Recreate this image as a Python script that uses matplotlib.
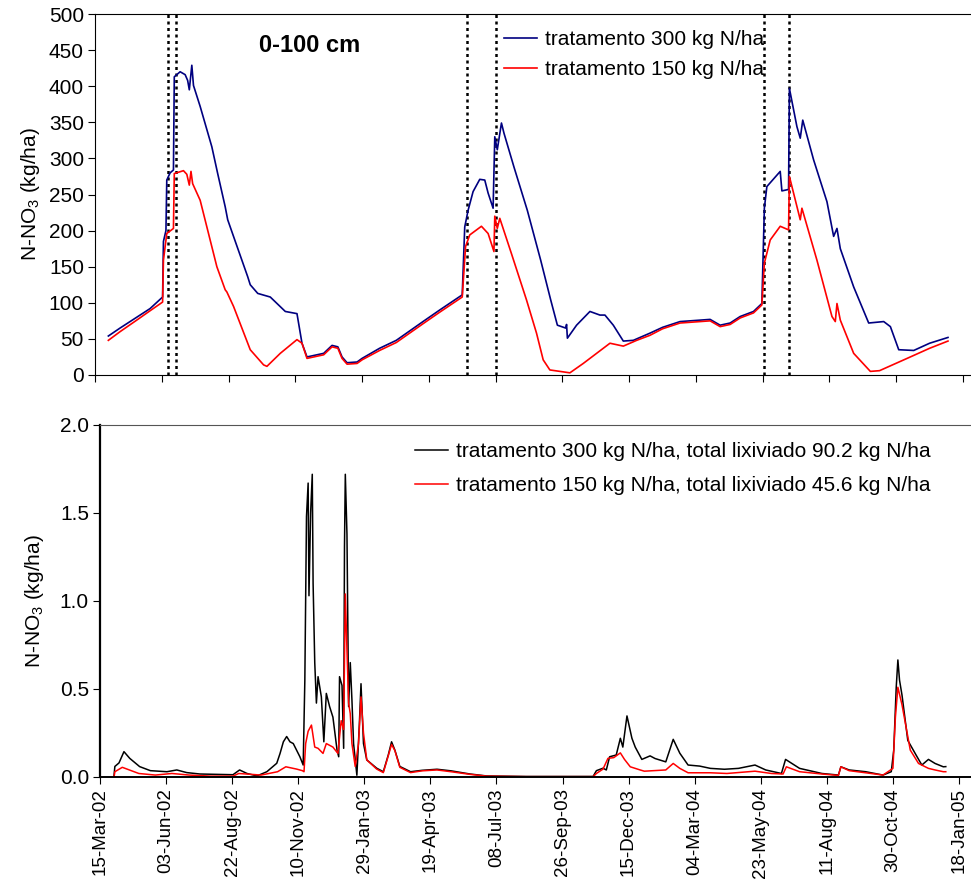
import numpy as np
import pandas as pd
import matplotlib
matplotlib.use("Agg")
import matplotlib.pyplot as plt
import matplotlib.dates as mdates

# =============================
# DATA (days since 15-Mar-2002)
# =============================
START = pd.Timestamp("2002-03-15")

# top panel: N-NO3 stock 0-100 cm (kg/ha)
days_stock_300 = [16, 30, 50, 66, 81, 82, 85, 86, 90, 94, 95, 102, 108, 111, 113, 116, 118, 126,
                  140, 147, 156, 159, 169, 183, 186, 195, 210, 228, 242, 248, 254, 262, 274, 284,
                  291, 296, 302, 314, 320, 341, 361, 393, 413, 440, 443, 447, 453, 461, 467, 471,
                  477, 479, 482, 487, 490, 502, 518, 534, 546, 554, 564, 565, 566, 577, 593, 605,
                  611, 621, 633, 645, 665, 680, 701, 737, 749, 761, 773, 789, 799, 802, 805, 821,
                  823, 831, 832, 841, 845, 848, 861, 877, 885, 889, 893, 909, 927, 945, 953, 963,
                  981, 1000, 1022]
stock_300 = [54, 65, 80, 92, 108, 185, 200, 270, 280, 284, 413, 420, 416, 408, 395, 429, 401, 372,
             316, 279, 233, 215, 182, 136, 125, 113, 108, 88, 85, 44, 25, 27, 30, 41,
             39, 25, 17, 18, 23, 37, 48, 74, 90, 111, 205, 228, 254, 271, 270, 252,
             231, 330, 312, 349, 335, 288, 228, 159, 104, 69, 65, 70, 51, 69, 88, 83,
             83, 69, 47, 48, 58, 66, 74, 77, 69, 72, 81, 88, 99, 231, 261, 282,
             255, 257, 397, 344, 328, 353, 298, 240, 192, 203, 175, 122, 72, 74, 67, 35,
             34, 44, 52]

days_stock_150 = [16, 30, 50, 66, 81, 82, 86, 94, 95, 106, 110, 113, 115, 117, 126, 146, 156, 158,
                  166, 186, 202, 206, 222, 242, 248, 254, 262, 274, 284, 291, 296, 302, 314, 320,
                  341, 361, 393, 413, 440, 444, 449, 463, 471, 478, 479, 482, 485, 491, 499, 517,
                  529, 537, 545, 569, 585, 601, 617, 633, 649, 665, 680, 701, 737, 749, 761, 773,
                  789, 799, 802, 809, 821, 831, 832, 845, 847, 865, 883, 887, 889, 893, 909, 929,
                  940, 973, 1000, 1022]
stock_150 = [48, 60, 76, 89, 101, 159, 196, 203, 279, 283, 278, 263, 282, 265, 242, 150, 118, 115,
             95, 35, 14, 12, 30, 49, 44, 23, 25, 28, 39, 37, 23, 15, 16, 21,
             34, 45, 71, 87, 108, 178, 194, 206, 196, 171, 220, 203, 217, 196, 168, 104,
             58, 21, 7, 3, 16, 30, 44, 40, 48, 55, 64, 72, 75, 67, 70, 79,
             86, 97, 155, 187, 206, 201, 275, 215, 231, 159, 81, 74, 99, 76, 30, 5,
             6, 23, 37, 47]

# fertilization dates (dotted lines)
days_events = [87, 97, 446, 480, 802, 832]

# bottom panel: leached N-NO3 (kg/ha)
days_leach_300 = [17, 18, 23, 29, 36, 48, 61, 81, 93, 105, 121, 161, 169, 178, 190, 202, 214, 218,
                  222, 226, 230, 234, 242, 246, 248, 250, 252, 253, 255, 257, 258, 260, 262, 264,
                  268, 271, 274, 278, 282, 287, 289, 290, 293, 295, 296, 297, 299, 301, 303, 305,
                  307, 311, 314, 316, 319, 323, 335, 343, 349, 353, 357, 363, 376, 390, 408, 425,
                  448, 468, 516, 597, 601, 609, 613, 617, 625, 630, 633, 638, 644, 648, 656, 666,
                  672, 685, 694, 702, 712, 726, 739, 756, 773, 793, 806, 825, 830, 847, 874, 894,
                  897, 907, 927, 948, 958, 961, 964, 966, 968, 971, 978, 988, 995, 1003, 1011,
                  1021, 1024]
leach_300 = [0.01, 0.06, 0.08, 0.144, 0.106, 0.059, 0.036, 0.03, 0.04, 0.025, 0.017, 0.013, 0.04,
             0.02, 0.006, 0.03, 0.078, 0.134, 0.2, 0.23, 0.2, 0.19, 0.115, 0.068, 0.55, 1.48, 1.67,
             1.03, 1.50, 1.72, 1.10, 0.65, 0.42, 0.57, 0.455, 0.2, 0.475, 0.40, 0.34, 0.153, 0.115,
             0.57, 0.52, 0.163, 1.31, 1.72, 1.38, 0.40, 0.65, 0.44, 0.19, 0.01, 0.30, 0.53, 0.19,
             0.097, 0.05, 0.03, 0.125, 0.2, 0.153, 0.06, 0.03, 0.038, 0.044, 0.035, 0.017, 0.006,
             0.003, 0.003, 0.036, 0.05, 0.04, 0.115, 0.125, 0.22, 0.17, 0.347, 0.22, 0.17, 0.1,
             0.12, 0.105, 0.086, 0.214, 0.135, 0.068, 0.062, 0.049, 0.044, 0.049, 0.068, 0.04,
             0.02, 0.1, 0.049, 0.02, 0.011, 0.058, 0.04, 0.03, 0.011, 0.03, 0.153, 0.51, 0.665,
             0.55, 0.465, 0.208, 0.125, 0.068, 0.1, 0.077, 0.058, 0.059]

days_leach_150 = [17, 18, 27, 47, 67, 87, 108, 134, 161, 168, 195, 215, 225, 238, 245, 247, 249,
                  252, 256, 260, 264, 270, 274, 282, 288, 292, 295, 297, 299, 301, 303, 305, 309,
                  313, 316, 319, 323, 335, 343, 349, 353, 357, 363, 376, 390, 408, 425, 448, 468,
                  516, 597, 601, 609, 615, 622, 630, 635, 642, 654, 659, 685, 694, 702, 712, 739,
                  759, 793, 813, 827, 831, 847, 874, 894, 897, 907, 927, 948, 960, 963, 966, 971,
                  981, 991, 1003, 1011, 1021, 1024]
leach_150 = [0.0, 0.03, 0.055, 0.02, 0.011, 0.02, 0.011, 0.005, 0.005, 0.02, 0.011, 0.03, 0.058,
             0.045, 0.036, 0.03, 0.19, 0.26, 0.295, 0.17, 0.163, 0.134, 0.19, 0.17, 0.134, 0.32,
             0.27, 1.04, 0.72, 0.42, 0.36, 0.19, 0.06, 0.19, 0.455, 0.25, 0.097, 0.045, 0.025,
             0.12, 0.185, 0.15, 0.055, 0.025, 0.035, 0.04, 0.03, 0.015, 0.005, 0.002, 0.002, 0.02,
             0.045, 0.106, 0.11, 0.137, 0.1, 0.058, 0.04, 0.033, 0.04, 0.077, 0.049, 0.024, 0.024,
             0.02, 0.033, 0.02, 0.017, 0.058, 0.03, 0.017, 0.009, 0.058, 0.036, 0.024, 0.011,
             0.049, 0.34, 0.51, 0.41, 0.153, 0.077, 0.049, 0.04, 0.03, 0.03]

label_stock_300 = "tratamento 300 kg N/ha"
label_stock_150 = "tratamento 150 kg N/ha"
label_leach_300 = "tratamento 300 kg N/ha, total lixiviado 90.2 kg N/ha"
label_leach_150 = "tratamento 150 kg N/ha, total lixiviado 45.6 kg N/ha"


def to_dates(days):
    return START + pd.to_timedelta(np.asarray(days), unit="D")


# =============================
# STYLE
# =============================
plt.rcParams["font.family"] = ["Liberation Sans", "DejaVu Sans"]
plt.rcParams["mathtext.fontset"] = "custom"
plt.rcParams["mathtext.rm"] = "Liberation Sans"
plt.rcParams["mathtext.default"] = "regular"

FS = 15
NAVY = "#000080"
RED = "#ff0000"

W, H = 971, 882
fig = plt.figure(figsize=(W / 100, H / 100), dpi=100)

# axes boxes in pixels (left, top, bottom), right edge runs to the figure edge
ax1 = fig.add_axes([95 / W, (H - 375) / H, (W - 95) / W, (375 - 14) / H])
ax2 = fig.add_axes([100 / W, (H - 777) / H, (W - 100) / W, (777 - 425) / H])

tick_dates = START + pd.to_timedelta(np.arange(0, 1041, 80), unit="D")

# =============================
# TOP PANEL
# =============================
ax1.plot(to_dates(days_stock_300), stock_300, color=NAVY, lw=1.2, label=label_stock_300)
ax1.plot(to_dates(days_stock_150), stock_150, color=RED, lw=1.2, label=label_stock_150)
for d in to_dates(days_events):
    ax1.axvline(d, color="black", lw=1.8, ls=(0, (1.2, 1.4)), zorder=1)

ax1.set_xlim(START, START + pd.Timedelta(days=(W - 95) / (868 / 1040)))
ax1.set_ylim(0, 500)
ax1.set_yticks(np.arange(0, 501, 50))
ax1.set_xticks(tick_dates)
ax1.tick_params(axis="x", labelbottom=False, direction="out", length=5)
ax1.tick_params(axis="y", labelsize=FS, direction="out", length=5, pad=3)
ax1.set_ylabel("N-NO$_3$ (kg/ha)", fontsize=FS, labelpad=5)
ax1.spines["right"].set_visible(False)
fig.text(310 / W, (H - 45) / H, "0-100 cm", fontsize=17, fontweight="bold",
         ha="center", va="center")

ax1.legend(loc="upper left", bbox_to_anchor=(504 / W, (H - 30) / H),
           bbox_transform=fig.transFigure, frameon=False, fontsize=FS,
           handlelength=1.6, handletextpad=0.35, labelspacing=0.55,
           borderpad=0, borderaxespad=0)

# =============================
# BOTTOM PANEL
# =============================
ax2.plot(to_dates(days_leach_300), leach_300, color="black", lw=1.1, label=label_leach_300)
ax2.plot(to_dates(days_leach_150), leach_150, color=RED, lw=1.1, label=label_leach_150)

ax2.set_xlim(START, START + pd.Timedelta(days=(W - 100) / (859 / 1040)))
ax2.set_ylim(0, 2.0)
ax2.set_yticks(np.arange(0, 2.01, 0.5))
ax2.yaxis.set_major_formatter(matplotlib.ticker.FormatStrFormatter("%.1f"))
ax2.set_xticks(tick_dates)
ax2.xaxis.set_major_formatter(mdates.DateFormatter("%d-%b-%y"))
ax2.tick_params(axis="x", labelsize=13.5, rotation=90, direction="out", length=5, pad=3)
ax2.tick_params(axis="y", labelsize=FS, direction="out", length=5, pad=3)
ax2.set_ylabel("N-NO$_3$ (kg/ha)", fontsize=FS, labelpad=10)
ax2.spines["right"].set_visible(False)
ax2.spines["left"].set_linewidth(1.6)
ax2.spines["bottom"].set_linewidth(1.4)
ax2.spines["top"].set_color("#555555")

ax2.legend(loc="upper left", bbox_to_anchor=(415 / W, (H - 442) / H),
           bbox_transform=fig.transFigure, frameon=False, fontsize=FS,
           handlelength=1.6, handletextpad=0.35, labelspacing=0.72,
           borderpad=0, borderaxespad=0)

fig.savefig("out.png", dpi=100)
plt.close(fig)
